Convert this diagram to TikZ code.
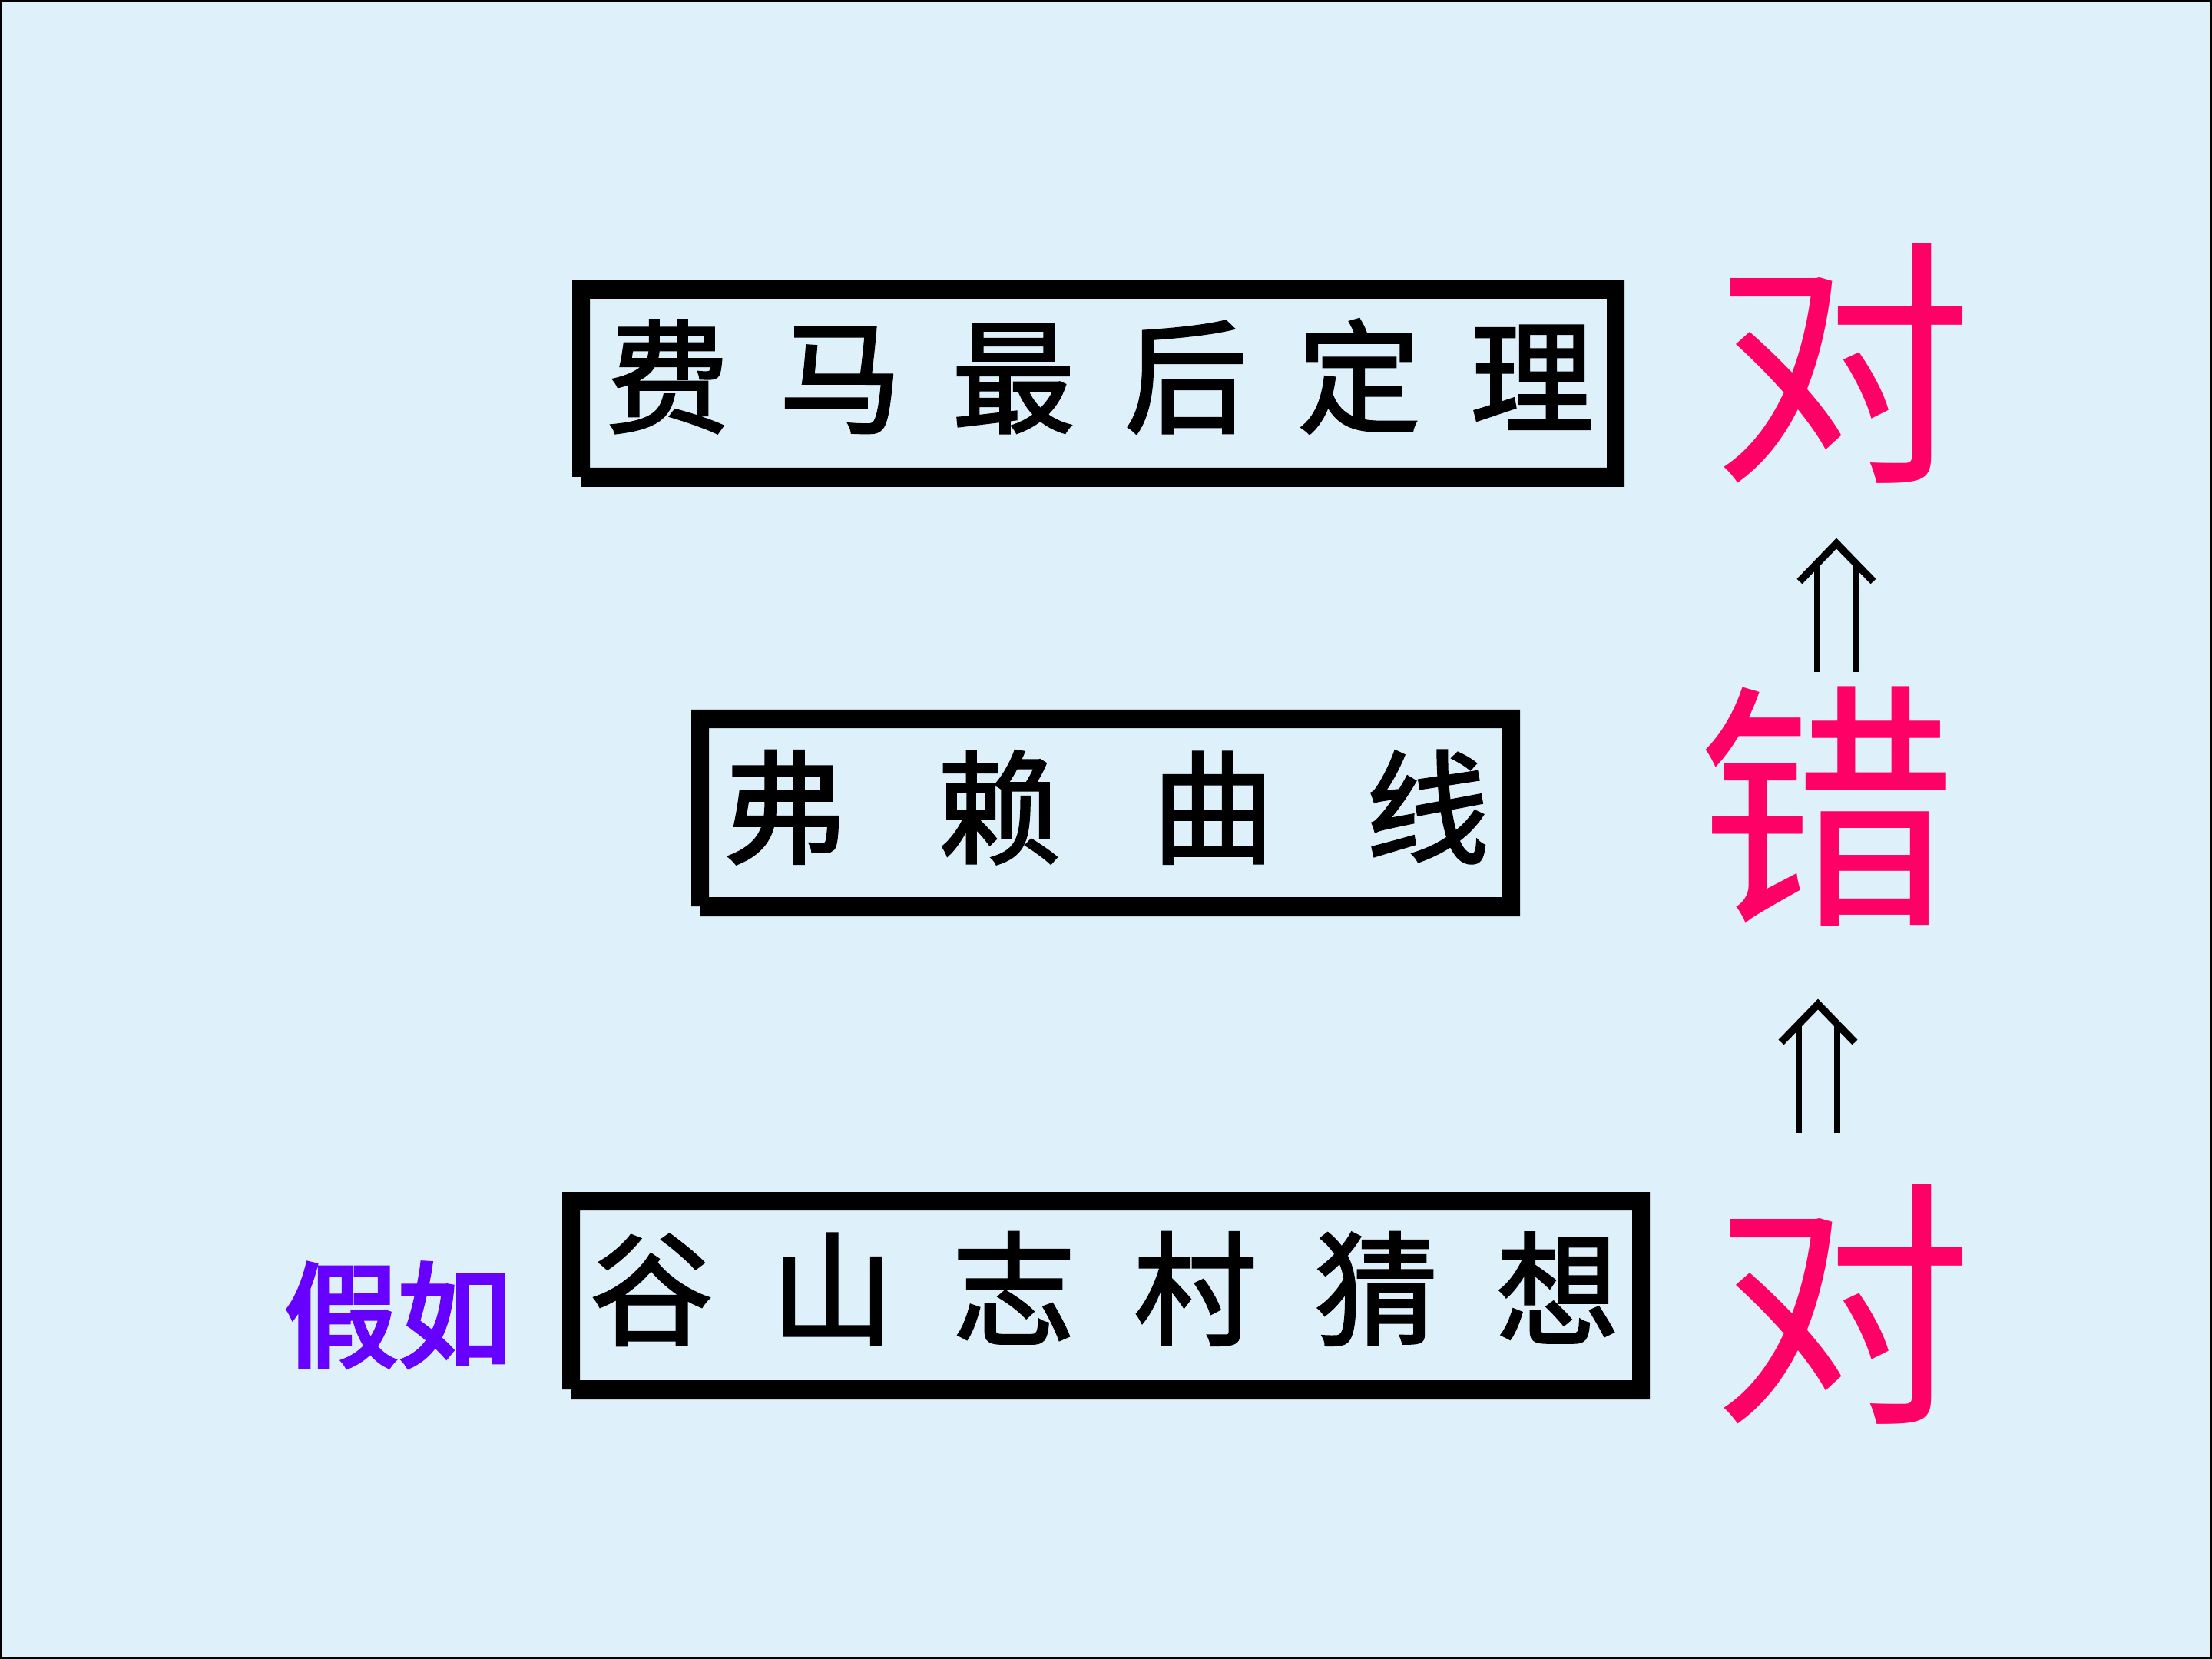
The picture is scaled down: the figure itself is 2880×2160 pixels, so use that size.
\documentclass[tikz,border=0pt]{standalone}
\usepackage{fontspec}
\newfontfamily\cjk{Noto Sans CJK SC}
\newfontfamily\cjkbox[FakeBold=2]{Noto Sans CJK SC}
\newfontfamily\cjkpur[FakeBold=3.5]{Noto Sans CJK SC}
\usetikzlibrary{calc}
\definecolor{bg}{RGB}{222,241,251}
\definecolor{redc}{RGB}{255,0,102}
\definecolor{purc}{RGB}{102,0,255}
\begin{document}
\begin{tikzpicture}[x=0.25pt,y=-0.25pt,
  boxnode/.style={draw=none,inner sep=0pt,outer sep=0pt,minimum height=67.25pt},
  boxtext/.style={font=\cjkbox\fontsize{40}{40}\selectfont,inner sep=0pt,anchor=center,text=black},
  redch/.style={font=\cjk\fontsize{85}{85}\selectfont,inner sep=0pt,anchor=center,text=redc},
  purtext/.style={font=\cjkpur\fontsize{37}{37}\selectfont,inner sep=0pt,anchor=center,text=purc},
  chev/.style={line width=2.4pt,line join=miter,line cap=butt,black},
  shaft/.style={line width=2pt,line cap=butt,black}]
\useasboundingbox (0,0) rectangle (2880,2160);
\fill[bg] (0,0) rectangle (2880,2160);
\draw[line width=0.75pt,black] (1.5,1.5) rectangle (2878.5,2158.5);

% boxes
\node[boxnode,minimum width=342.5pt] (b1) at (1430,499.5) {};
\node[boxnode,minimum width=269.75pt] (b2) at (1439.5,1058.5) {};
\node[boxnode,minimum width=354pt,minimum height=67.5pt] (b3) at (1440,1687) {};
\foreach \b in {b1,b2,b3}{
  \fill[black,even odd rule] (\b.north west) -- (\b.north east) -- (\b.south east)
    -- ($(\b.south west)+(12,0)$) -- ($(\b.south west)+(12,-13)$) -- ($(\b.south west)+(0,-13)$) -- cycle
    ($(\b.north west)+(23,24)$) rectangle ($(\b.south east)+(-23,-25)$);
}

% box texts
\node[boxtext] (t1) at (1432,490) {费\hspace{16.25pt}马\hspace{16.25pt}最\hspace{16.25pt}后\hspace{16.25pt}定\hspace{16.25pt}理};
\node[boxtext] (t2) at (1440,1051) {弗\hspace{29.75pt}赖\hspace{29.75pt}曲\hspace{29.75pt}线};
\node[boxtext] (t3) at (1438,1678) {谷\hspace{19pt}山\hspace{19pt}志\hspace{19pt}村\hspace{19pt}猜\hspace{19pt}想};

% left label
\node[purtext] (jr) at (518,1712) {假如};

% red characters
\node[redch] (r1) at (2399,473) {对};
\node[redch] (r2) at (2378,1050) {错};
\node[redch] (r3) at (2399,1698) {对};

% double arrows
\coordinate (arr1) at (2391,700);
\coordinate (arr2) at (2367,1300);
\foreach \a in {arr1,arr2}{
  \draw[chev] ($(\a)+(-48,57)$) -- ($(\a)+(0,7.5)$) -- ($(\a)+(48,57)$);
  \draw[shaft] ($(\a)+(-25,33)$) -- ($(\a)+(-25,175)$);
  \draw[shaft] ($(\a)+(25,33)$) -- ($(\a)+(25,175)$);
}
\end{tikzpicture}
\end{document}
